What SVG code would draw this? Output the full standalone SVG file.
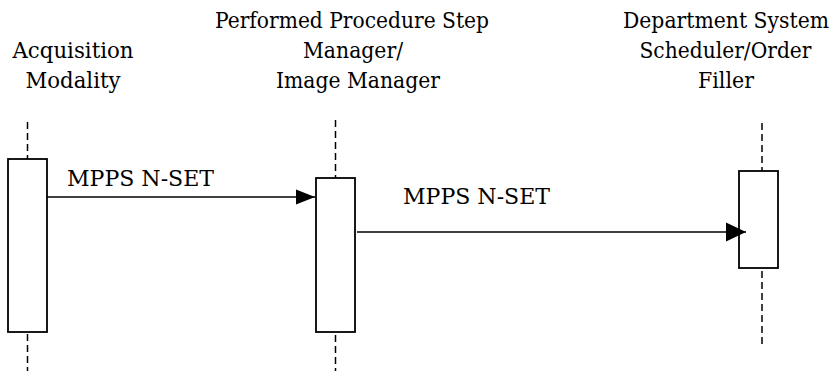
<svg xmlns="http://www.w3.org/2000/svg" width="836" height="371" viewBox="0 0 836 371">
<style>
text{font-family:'DejaVu Serif',serif;font-size:23px;fill:#000}
.c{text-anchor:middle}
.e{text-anchor:end}
.life{stroke:#000;stroke-width:1.5;stroke-dasharray:7 4;fill:none}
.box{fill:#fff;stroke:#000;stroke-width:1.8}
.msg{stroke:#000;stroke-width:1.4;fill:none}
</style>
<defs>
<marker id="ah1" markerUnits="userSpaceOnUse" markerWidth="20" markerHeight="16" refX="19" refY="8" orient="auto">
<path d="M0,0.5 L19,8 L0,15.5 Z" fill="#000"/>
</marker>
<marker id="ah2" markerUnits="userSpaceOnUse" markerWidth="21" markerHeight="20" refX="20" refY="10" orient="auto">
<path d="M0,0.5 L20,10 L0,19.5 Z" fill="#000"/>
</marker>
</defs>
<g id="acq">
<text class="c" x="73" y="58" textLength="121" lengthAdjust="spacingAndGlyphs">Acquisition</text>
<text class="c" x="73" y="88" textLength="95" lengthAdjust="spacingAndGlyphs">Modality</text>
<line class="life" x1="27.5" y1="122" x2="27.5" y2="159"/>
<line class="life" x1="27.5" y1="334" x2="27.5" y2="371"/>
<rect class="box" x="8" y="159" width="39" height="173"/>
</g>
<g id="ppsm">
<text class="c" x="352" y="28" textLength="274" lengthAdjust="spacingAndGlyphs">Performed Procedure Step</text>
<text class="c" x="353" y="58" textLength="100" lengthAdjust="spacingAndGlyphs">Manager/</text>
<text class="c" x="358" y="88" textLength="164" lengthAdjust="spacingAndGlyphs">Image Manager</text>
<line class="life" x1="335.5" y1="120" x2="335.5" y2="178"/>
<line class="life" x1="335.5" y1="335" x2="335.5" y2="371"/>
<rect class="box" x="316" y="178" width="39" height="154"/>
</g>
<g id="dss">
<text class="e" x="829" y="28" textLength="206" lengthAdjust="spacingAndGlyphs">Department System</text>
<text class="c" x="725.5" y="58" textLength="172" lengthAdjust="spacingAndGlyphs">Scheduler/Order</text>
<text class="c" x="726" y="88" textLength="56" lengthAdjust="spacingAndGlyphs">Filler</text>
<line class="life" x1="762" y1="123" x2="762" y2="171"/>
<line class="life" x1="762" y1="271" x2="762" y2="347"/>
<rect class="box" x="739" y="171" width="39" height="97"/>
</g>
<g id="connectors">
<line class="msg" x1="47" y1="197" x2="315" y2="197" marker-end="url(#ah1)"/>
<text x="67" y="186" textLength="147" lengthAdjust="spacingAndGlyphs">MPPS N-SET</text>
<line class="msg" x1="357" y1="232" x2="746" y2="232" marker-end="url(#ah2)"/>
<text x="403" y="204" textLength="147" lengthAdjust="spacingAndGlyphs">MPPS N-SET</text>
</g>
</svg>
